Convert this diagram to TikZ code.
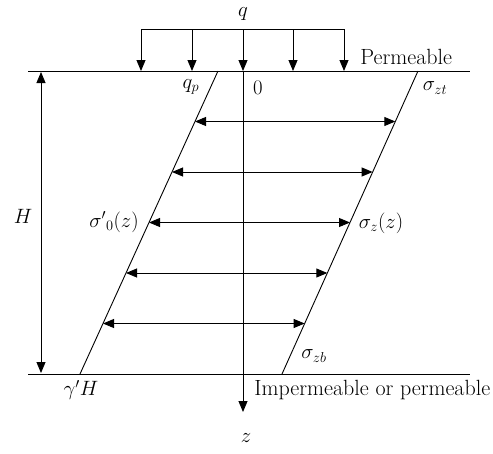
\documentclass[tikz,border=0pt]{standalone}
\usetikzlibrary{arrows.meta,calc}
\tikzset{
  lbl/.style={font=\fontsize{22}{26}\selectfont,inner sep=1pt},
  tip/.style={-{Triangle[length=11pt,width=9pt]}},
  dtip/.style={{Triangle[length=11pt,width=9pt]}-{Triangle[length=11pt,width=9pt]}}
}
\begin{document}
\begin{tikzpicture}[x=1pt,y=-1pt,line width=0.9pt]
\useasboundingbox (0,0) rectangle (493,453);
% ground surfaces
\coordinate (tl) at (28,71);  \coordinate (tr) at (470,71);
\coordinate (bl) at (28,374); \coordinate (br) at (470,374);
\draw (tl) -- (tr);
\draw (bl) -- (br);
% stress profiles
\coordinate (lt) at (218,71); \coordinate (lb) at (80,374);
\coordinate (rt) at (418,71); \coordinate (rb) at (282,374);
\draw (lt) -- (lb);
\draw (rt) -- (rb);
\foreach \t in {1,...,5}
  \draw[dtip] ($(lt)!\t/6!(lb)$) -- ($(rt)!\t/6!(rb)$);
% surcharge q
\coordinate (qa) at (141,29); \coordinate (qb) at (344,29);
\draw (qa) -- (qb);
\foreach \x in {141,192,243,293,344}
  \draw[tip] (\x,29) -- (\x,71);
\node[lbl] (q) at (243,14) {$q$};
% depth axis
\coordinate (zo) at (243,71); \coordinate (zend) at (243,412);
\draw[tip] (zo) -- (zend);
\node[lbl] (z) at (246,438) {$z$};
% layer thickness
\coordinate (ht) at (41,72); \coordinate (hb) at (41,373);
\draw[dtip] (ht) -- (hb);
\node[lbl] (H) at (23,216) {$H$};
% labels
\node[lbl,anchor=west] (perm) at (359,57) {Permeable};
\node[lbl,anchor=west] (imperm) at (253,390) {Impermeable or permeable};
\node[lbl] (qp) at (191,87) {$q_p$};
\node[lbl] (zero) at (258,88) {$0$};
\node[lbl] (szt) at (435,88) {$\sigma_{zt}$};
\node[lbl] (s0) at (114,222) {${\sigma'}_{0}(z)$};
\node[lbl] (sz) at (381,223) {$\sigma_{z}(z)$};
\node[lbl] (szb) at (314,356) {$\sigma_{zb}$};
\node[lbl] (gH) at (81,390) {$\gamma' H$};
\end{tikzpicture}
\end{document}
